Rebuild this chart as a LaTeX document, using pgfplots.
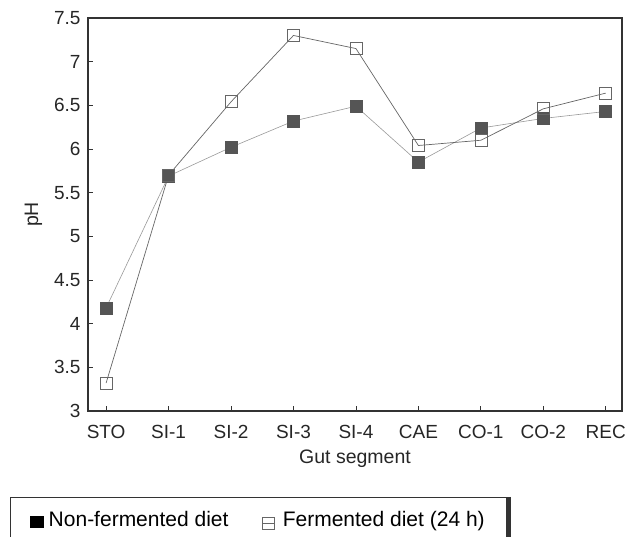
\documentclass[border=0pt]{standalone}
\usepackage{fontspec}
\setmainfont{Liberation Sans}
\usepackage{pgfplots}
\pgfplotsset{compat=1.18}
\definecolor{frame}{HTML}{333333}
\definecolor{fillmk}{HTML}{555555}
\begin{document}
\begin{tikzpicture}[x=1pt,y=1pt]
\path[use as bounding box] (0,0) rectangle (626,537);
\begin{axis}[
  at={(88pt,126pt)}, anchor=south west,
  width=534pt, height=393pt, scale only axis,
  xmin=-0.29, xmax=8.26, ymin=3, ymax=7.5,
  axis line style={frame, line width=1.3pt},
  xtick={0,...,8},
  xticklabels={STO,SI-1,SI-2,SI-3,SI-4,CAE,CO-1,CO-2,REC},
  ytick={3,3.5,...,7.5},
  yticklabels={3,3.5,4,4.5,5,5.5,6,6.5,7,7.5},
  tick align=inside, xtick pos=bottom, ytick pos=left,
  major tick length=5pt,
  tick style={frame, line width=0.8pt},
  tick label style={font=\fontsize{19}{23}\selectfont, text=black!85},
  xticklabel style={yshift=-10.5pt},
  yticklabel style={xshift=-4pt},
  /pgf/number format/assume math mode=true,
  xlabel={Gut segment}, ylabel={pH},
  label style={font=\fontsize{19.5}{23}\selectfont, text=black!85},
  xlabel style={at={(axis description cs:0.5,0)}, anchor=north, yshift=-35pt},
  ylabel style={yshift=5pt},
  legend columns=2,
  legend style={at={(-0.146,-0.219)}, anchor=north west,
    draw=frame, line width=0.8pt, inner xsep=20pt, inner ysep=12pt,
    font=\fontsize{21}{25}\selectfont,
    /tikz/every even column/.append style={column sep=32pt}},
]
\addplot[line width=0.6pt, color=black!40, mark=square*, mark size=6pt,
  mark options={fill=fillmk, draw=fillmk},
  legend image code/.code={\path[draw=none, fill=none] (0pt,0pt) -- (16pt,0pt);
    \fill[black] (0pt,-7.5pt) rectangle (13pt,3.5pt);}]
  coordinates {(0,4.18) (1,5.69) (2,6.02) (3,6.32) (4,6.49) (5,5.85) (6,6.24) (7,6.35) (8,6.43)};
\addlegendentry{Non-fermented diet}
\addplot[line width=0.7pt, color=black!60, mark=square, mark size=6pt,
  mark options={draw=black!60, line width=0.7pt},
  legend image code/.code={\path[draw=none, fill=none] (0pt,0pt) -- (18pt,0pt);
    \draw[black!60, line width=0.6pt] (0pt,-9.5pt) rectangle (12pt,2.5pt);
    \draw[black!60, line width=0.6pt] (0pt,-3.5pt) -- (12pt,-3.5pt);}]
  coordinates {(0,3.32) (1,5.70) (2,6.54) (3,7.30) (4,7.15) (5,6.04) (6,6.10) (7,6.46) (8,6.64)};
\addlegendentry{Fermented diet (24 h)}
\end{axis}
\draw[frame, line width=3.5pt] (509,40) -- (509,-5);
\end{tikzpicture}
\end{document}
